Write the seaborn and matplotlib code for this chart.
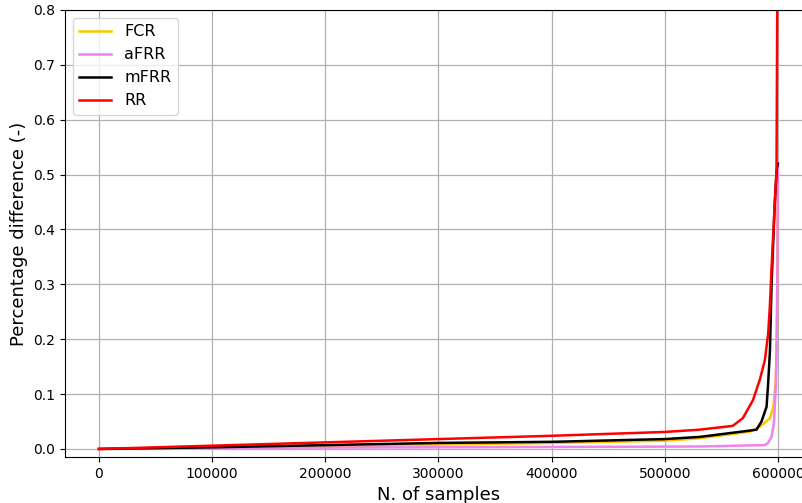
import pandas as pd
import matplotlib
matplotlib.use("Agg")
import matplotlib.pyplot as plt
import seaborn as sns

# sorted percentage differences, breakpoints
fcr_x = [0, 100000, 200000, 300000, 400000, 500000, 531000, 575000, 584000,
         593000, 596000, 598000, 599000, 600000]
fcr_y = [0, 0.002, 0.005, 0.008, 0.011, 0.015, 0.0195, 0.0315, 0.04,
         0.056, 0.077, 0.12, 0.18, 0.5]

afrr_x = [0, 100000, 300000, 531000, 588500, 591400, 594400, 596500, 598300,
          599400, 600000]
afrr_y = [0, 0.002, 0.003, 0.0045, 0.007, 0.0115, 0.022, 0.047, 0.12,
          0.27, 0.52]

mfrr_x = [0, 100000, 200000, 300000, 400000, 500000, 531000, 581000, 585500,
          590000, 591400, 593000, 594400, 597300, 599000, 600000]
mfrr_y = [0, 0.003, 0.007, 0.011, 0.013, 0.018, 0.022, 0.035, 0.05,
          0.077, 0.12, 0.18, 0.3, 0.45, 0.51, 0.52]

rr_x = [0, 100000, 200000, 300000, 400000, 500000, 530000, 560000, 569000,
        578000, 584000, 588500, 591400, 592900, 594400, 597300, 598800, 599400, 600000]
rr_y = [0, 0.006, 0.012, 0.018, 0.024, 0.031, 0.035, 0.042, 0.056,
        0.089, 0.126, 0.162, 0.21, 0.26, 0.33, 0.45, 0.51, 0.8, 0.95]

series = [("FCR", fcr_x, fcr_y), ("aFRR", afrr_x, afrr_y),
          ("mFRR", mfrr_x, mfrr_y), ("RR", rr_x, rr_y)]
colors = {"FCR": "#FFC400", "aFRR": "violet", "mFRR": "black", "RR": "red"}

frames = []
for name, xs, ys in series:
    frames.append(pd.DataFrame({"samples": xs, "diff": ys, "reserve": name}))
df = pd.concat(frames, ignore_index=True)

fig = plt.figure(figsize=(8.03, 5.03), dpi=100)
ax = fig.add_axes([0.081, 0.0915, 0.93, 0.8887])

sns.lineplot(data=df, x="samples", y="diff", hue="reserve", palette=colors,
             sort=False, estimator=None, linewidth=1.8, ax=ax)

ax.set_xlim(-30000, 630000)
ax.set_ylim(-0.0146, 0.8)
ax.set_xticks(range(0, 600001, 100000))
ax.set_yticks([i / 10 for i in range(9)])
ax.tick_params(labelsize=10)
ax.grid(True, color="#b0b0b0", linewidth=0.9)
ax.set_axisbelow(True)
ax.set_xlabel("N. of samples", fontsize=13)
ax.set_ylabel("Percentage difference (-)", fontsize=13)
ax.legend(loc="upper left", fontsize=11.5, title=None)

plt.savefig("out.png", dpi=100)
